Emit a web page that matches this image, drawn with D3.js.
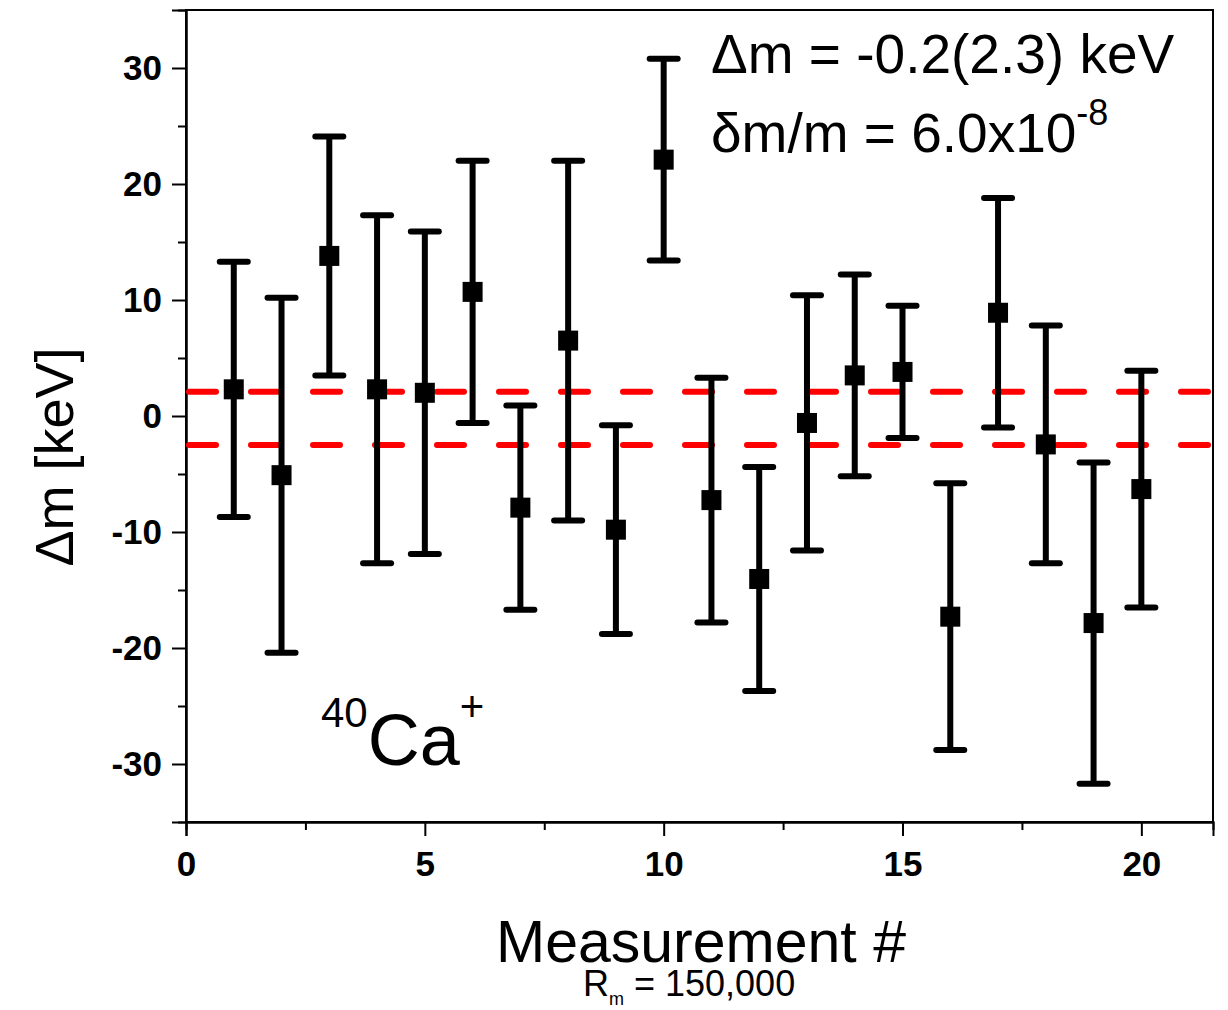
<!DOCTYPE html>
<html>
<head>
<meta charset="utf-8">
<script src="https://cdn.jsdelivr.net/npm/d3@7"></script>
<style>
  body { margin: 0; background: #fff; }
  text { font-family: "Liberation Sans", Arial, sans-serif; fill: #000; }
  .tick text { font-weight: bold; font-size: 35px; }
</style>
</head>
<body>
<script>
// measurement number, mass deviation [keV], 1-sigma error [keV]
var measNo = [1, 2, 3, 4, 5, 6, 7, 8, 9, 10, 11, 12, 13, 14, 15, 16, 17, 18, 19, 20];
var dmVals = [2.3, -5.1, 13.8, 2.3, 2.0, 10.7, -7.9, 6.5, -9.8, 22.1, -7.25, -14.05, -0.6, 3.5, 3.8, -17.3, 8.9, -2.45, -17.85, -6.3];
var dmErrs = [11.0, 15.3, 10.3, 15.0, 13.9, 11.3, 8.8, 15.5, 9.0, 8.7, 10.55, 9.65, 11.0, 8.7, 5.7, 11.5, 9.9, 10.25, 13.85, 10.2];
var bandLimits = [2.1, -2.5];   // mean ± error
var xTicks = [0, 5, 10, 15, 20];
var yTicks = [-30, -20, -10, 0, 10, 20, 30];

var width = 1228, height = 1010;
var margin = {top: 10, right: 15, bottom: 188, left: 186};
var w = width - margin.left - margin.right,
    h = height - margin.top - margin.bottom;

var x = d3.scaleLinear().domain([0, 21.5]).range([0, w]);
var y = d3.scaleLinear().domain([-35, 35]).range([h, 0]);

var svg = d3.select('body').append('svg')
  .attr('width', width)
  .attr('height', height);

var main = svg.append('g')
  .attr('transform', 'translate(' + margin.left + ',' + margin.top + ')');

// frame
main.append('rect')
  .attr('width', w).attr('height', h)
  .attr('fill', 'none').attr('stroke', '#000').attr('stroke-width', 2);

// minor ticks
var xMinor = d3.range(2.5, 21.5, 5);
var yMinor = d3.range(-25, 35, 10);
var plain = function(d) { return String(d); };

var xAxis = d3.axisBottom(x).tickValues(xTicks).tickSize(14).tickPadding(15).tickFormat(plain);
main.append('g').attr('transform', 'translate(0,' + h + ')').call(xAxis);
main.append('g').attr('transform', 'translate(0,' + h + ')')
  .call(d3.axisBottom(x).tickValues(xMinor).tickSize(8).tickFormat(''));

var yAxis = d3.axisLeft(y).tickValues(yTicks).tickSize(14).tickPadding(10).tickFormat(plain);
main.append('g').call(yAxis);
main.append('g').call(d3.axisLeft(y).tickValues(yMinor).tickSize(8).tickFormat(''));

main.selectAll('.domain').attr('stroke-width', 2);
main.selectAll('.tick line').attr('stroke-width', 2);

// red dashed band
main.selectAll('.band')
  .data(bandLimits)
  .enter().append('line')
  .attr('x1', 0).attr('x2', w)
  .attr('y1', function(d) { return y(d); })
  .attr('y2', function(d) { return y(d); })
  .attr('stroke', '#ff0000')
  .attr('stroke-width', 6)
  .attr('stroke-linecap', 'round')
  .attr('stroke-dasharray', '27,35')
  .attr('stroke-dashoffset', -3);

// error bars
var pts = measNo.map(function(n, i) { return {n: n, v: dmVals[i], e: dmErrs[i]}; });
var eb = main.append('g').selectAll('g').data(pts).enter().append('g');

eb.append('line')
  .attr('x1', function(d) { return x(d.n); })
  .attr('x2', function(d) { return x(d.n); })
  .attr('y1', function(d) { return y(d.v + d.e); })
  .attr('y2', function(d) { return y(d.v - d.e); })
  .attr('stroke', '#000').attr('stroke-width', 6);

[1, -1].forEach(function(s) {
  eb.append('line')
    .attr('x1', function(d) { return x(d.n) - 14; })
    .attr('x2', function(d) { return x(d.n) + 14; })
    .attr('y1', function(d) { return y(d.v + s * d.e); })
    .attr('y2', function(d) { return y(d.v + s * d.e); })
    .attr('stroke', '#000').attr('stroke-width', 6)
    .attr('stroke-linecap', 'round');
});

eb.append('rect')
  .attr('x', function(d) { return x(d.n) - 10; })
  .attr('y', function(d) { return y(d.v) - 10; })
  .attr('width', 20).attr('height', 20)
  .attr('fill', '#000');

// annotations
var ann = svg.append('g').style('font-size', '55px');
ann.append('text').attr('x', 711).attr('y', 73).text('\u0394m = -0.2(2.3) keV');
var t2 = ann.append('text').attr('x', 711).attr('y', 152);
t2.append('tspan').text('\u03b4m/m = 6.0x10');
t2.append('tspan').attr('dy', -27).style('font-size', '36px').text('-8');

var ca = svg.append('text').attr('x', 321).attr('y', 765);
ca.append('tspan').attr('dy', -38).style('font-size', '42px').text('40');
ca.append('tspan').attr('dy', 38).style('font-size', '72px').text('Ca');
ca.append('tspan').attr('dy', -44).style('font-size', '42px').text('+');

// axis titles
svg.append('text')
  .attr('transform', 'translate(73,457) rotate(-90)')
  .attr('text-anchor', 'middle')
  .style('font-size', '54px')
  .text('\u0394m [keV]');

svg.append('text')
  .attr('x', 701).attr('y', 962)
  .attr('text-anchor', 'middle')
  .style('font-size', '59px')
  .text('Measurement #');

var rm = svg.append('text').attr('x', 583).attr('y', 996).style('font-size', '36px');
rm.append('tspan').text('R');
rm.append('tspan').attr('dy', 9).style('font-size', '18px').text('m');
rm.append('tspan').attr('dy', -9).text(' = 150,000');
</script>
</body>
</html>
